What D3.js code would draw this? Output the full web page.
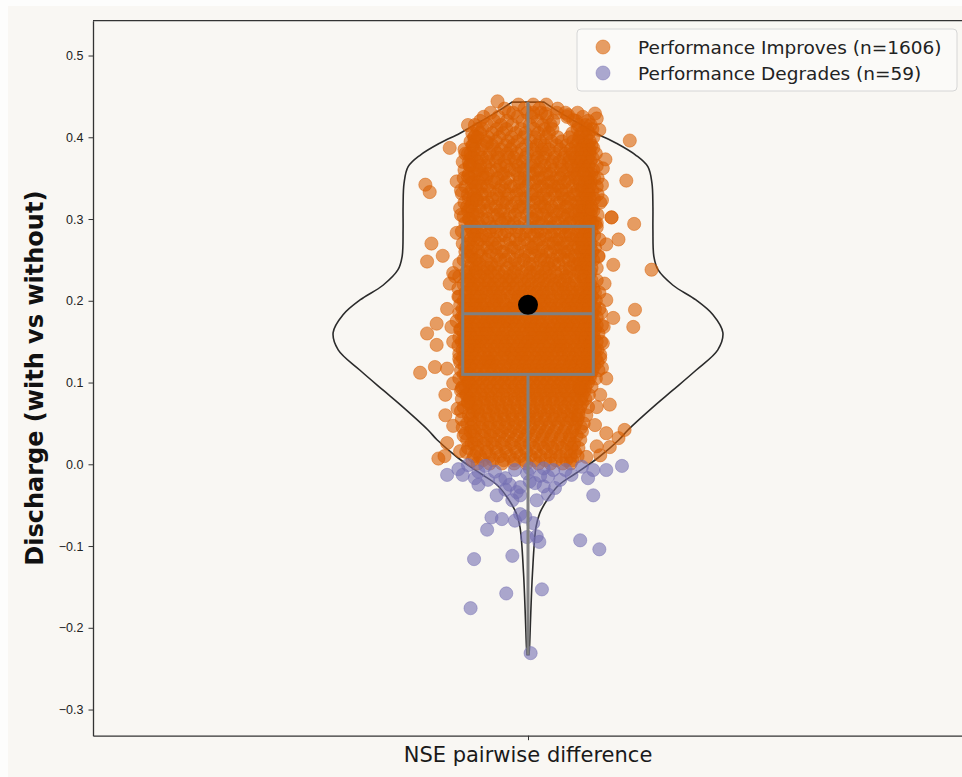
<!DOCTYPE html>
<html>
<head>
<meta charset="utf-8">
<script src="https://cdn.jsdelivr.net/npm/d3@7"></script>
<style>
  html, body { margin: 0; padding: 0; background: #fdfdfc; }
  svg { display: block; font-family: "DejaVu Sans", sans-serif; }
</style>
</head>
<body>
<svg id="chart" width="962" height="777"></svg>
<script>
// ---- data ----
const yTicks = [0.5, 0.4, 0.3, 0.2, 0.1, 0.0, -0.1, -0.2, -0.3];
const groupNames = ["Performance Improves (n=1606)", "Performance Degrades (n=59)"];
const groupColors = ["#d95f02", "#7570b3"];

// violin outline: [value, relative half width]
const violinProfile = [
  [0.443, .082], [0.431, .159], [0.419, .246], [0.405, .349], [0.393, .451],
  [0.378, .554], [0.364, .615], [0.344, .636], [0.315, .641], [0.287, .641],
  [0.254, .646], [0.238, .667], [0.219, .744], [0.201, .862], [0.183, .949],
  [0.161, 1.0], [0.140, .974], [0.115, .862], [0.090, .740], [0.073, .656],
  [0.042, .513], [0.030, .467], [0.008, .360], [-0.011, .246], [-0.025, .160],
  [-0.040, .108], [-0.060, .060], [-0.077, .041], [-0.133, .023], [-0.190, .013],
  [-0.223, .008], [-0.233, .005]
];

// box plot: q1, median, q3 / whisker ends / mean
const boxQuartiles = [0.110, 0.184, 0.291];
const whiskerEnds = [-0.233, 0.443];
const meanValue = 0.195;

// improving catchments, grouped by value: [value, [jitter offsets]]
const improvesRows = [
  [.440, [-.011,.006,.021]],
  [.435, [-.027,-.004,.013,.034]],
  [.430, [-.043,-.022,-.001,.015,.033,.057]],
  [.425, [-.051,-.034,-.012,.004,.022,.045,.063]],
  [.420, [-.055,-.039,-.024,-.006,.011,.029,.055,.069]],
  [.415, [-.061,-.047,-.031,-.018,.002,.017,.026,.058,.066,.072]],
  [.410, [-.058,-.052,-.036,-.025,-.008,.007,.019,.028,.057,.068,.074]],
  [.405, [-.064,-.055,-.041,-.029,-.014,-.003,.012,.024,.051,.061,.070,.063]],
  [.400, [-.062,-.058,-.046,-.033,-.019,-.005,.008,.021,.034,.048,.059,.067,.075]],
  [.395, [-.066,-.061,-.048,-.037,-.023,-.012,.003,.014,.027,.039,.052,.063,.071,.058]],
  [.390, [-.064,-.063,-.052,-.041,-.026,-.017,-.002,.010,.019,.033,.044,.055,.064,.073,.069]],
  [.385, [-.073,-.062,-.054,-.039,-.031,-.020,-.007,.005,.016,.024,.037,.049,.058,.067,.071,.061]],
  [.380, [-.069,-.066,-.057,-.044,-.035,-.024,-.013,-.001,.009,.020,.031,.043,.051,.062,.071,.078,.066]],
  [.375, [-.062,-.065,-.053,-.047,-.034,-.022,-.016,-.003,.011,.018,.030,.041,.054,.060,.069,.074,.048]],
  [.370, [-.075,-.068,-.058,-.045,-.037,-.027,-.014,-.006,.007,.015,.028,.036,.047,.056,.066,.072,.061]],
  [.365, [-.067,-.064,-.055,-.049,-.032,-.025,-.011,.000,.004,.019,.026,.039,.050,.058,.064,.070,.079]],
  [.360, [-.073,-.059,-.056,-.043,-.036,-.021,-.015,-.005,.010,.014,.029,.038,.045,.061,.067,.075,.053]],
  [.355, [-.068,-.061,-.052,-.046,-.030,-.028,-.012,.002,.006,.021,.025,.040,.053,.057,.070,.073,.064]],
  [.350, [-.074,-.067,-.052,-.048,-.035,-.023,-.009,-.004,.012,.017,.032,.037,.048,.055,.068,.076,.080]],
  [.345, [-.065,-.063,-.057,-.042,-.038,-.026,-.010,.001,.008,.023,.027,.042,.046,.059,.065,.072,.069]],
  [.340, [-.072,-.060,-.054,-.047,-.031,-.020,-.016,-.002,.013,.016,.030,.035,.051,.060,.063,.071,.079]],
  [.335, [-.077,-.065,-.058,-.044,-.033,-.027,-.011,-.006,.009,.022,.028,.038,.044,.057,.069,.074,.062]],
  [.330, [-.069,-.062,-.053,-.049,-.036,-.022,-.013,.003,.005,.018,.031,.039,.052,.054,.066,.070,.080]],
  [.325, [-.063,-.068,-.059,-.041,-.034,-.024,-.008,-.003,.011,.020,.024,.041,.047,.062,.067,.071,.076]],
  [.320, [-.073,-.064,-.051,-.046,-.029,-.025,-.014,.000,.007,.015,.033,.036,.049,.056,.064,.068,.083]],
  [.315, [-.070,-.066,-.056,-.043,-.037,-.019,-.010,-.005,.014,.019,.027,.043,.045,.058,.070,.073,.061]],
  [.310, [-.064,-.069,-.055,-.048,-.032,-.028,-.012,.002,.008,.022,.029,.037,.053,.059,.063,.075,.069]],
  [.305, [-.077,-.063,-.058,-.040,-.035,-.021,-.015,-.001,.010,.017,.032,.040,.046,.055,.068,.072,.080]],
  [.300, [-.068,-.067,-.052,-.047,-.033,-.026,-.009,.004,.006,.021,.026,.042,.050,.061,.065,.071,.058]],
  [.295, [-.072,-.065,-.057,-.045,-.030,-.023,-.016,-.004,.012,.016,.031,.035,.048,.057,.066,.074,.077]],
  [.290, [-.066,-.061,-.054,-.042,-.038,-.020,-.011,.001,.009,.023,.028,.041,.044,.060,.069,.071,.079]],
  [.285, [-.076,-.064,-.059,-.044,-.036,-.024,-.013,-.002,.011,.015,.030,.037,.047,.058,.066,.073,.063]],
  [.280, [-.070,-.062,-.053,-.049,-.031,-.027,-.009,.003,.007,.020,.027,.043,.049,.056,.064,.076,.071]],
  [.275, [-.066,-.062,-.055,-.046,-.039,-.021,-.014,-.004,.013,.018,.033,.036,.051,.060,.068,.070,.082]],
  [.270, [-.075,-.068,-.058,-.041,-.034,-.025,-.010,.000,.009,.024,.029,.040,.045,.055,.067,.072,.062]],
  [.265, [-.071,-.063,-.052,-.047,-.037,-.019,-.016,.004,.006,.017,.031,.038,.052,.058,.063,.072,.077]],
  [.260, [-.072,-.066,-.057,-.043,-.030,-.028,-.012,-.003,.012,.022,.026,.042,.046,.061,.069,.074,.066]],
  [.255, [-.065,-.069,-.054,-.045,-.036,-.022,-.008,.001,.008,.016,.034,.037,.050,.054,.065,.071,.081]],
  [.250, [-.074,-.061,-.059,-.048,-.032,-.026,-.015,-.005,.014,.019,.028,.041,.047,.059,.066,.071,.075]],
  [.245, [-.079,-.065,-.056,-.042,-.035,-.020,-.011,.002,.005,.023,.030,.035,.053,.057,.064,.068,.060]],
  [.240, [-.067,-.060,-.051,-.046,-.038,-.024,-.014,-.001,.010,.018,.025,.043,.048,.062,.068,.073,.079]],
  [.235, [-.071,-.068,-.060,-.052,-.043,-.034,-.027,-.016,-.007,.003,.011,.020,.031,.039,.048,.058,.067,.072]],
  [.230, [-.079,-.071,-.063,-.055,-.047,-.038,-.029,-.021,-.012,-.002,.006,.015,.025,.033,.044,.053,.061,.070,.064]],
  [.225, [-.066,-.069,-.058,-.049,-.044,-.033,-.024,-.018,-.008,.001,.012,.019,.028,.037,.042,.054,.064,.073,.079]],
  [.220, [-.074,-.070,-.062,-.056,-.045,-.039,-.030,-.022,-.013,-.004,.004,.013,.022,.030,.040,.047,.056,.066,.072,.068]],
  [.215, [-.080,-.064,-.065,-.057,-.050,-.041,-.035,-.026,-.017,-.009,.000,.008,.016,.027,.034,.043,.051,.060,.068,.075,.071]],
  [.210, [-.071,-.072,-.064,-.053,-.048,-.040,-.031,-.023,-.015,-.006,.002,.010,.018,.024,.035,.041,.050,.057,.063,.071,.077,.082]],
  [.205, [-.079,-.070,-.061,-.055,-.046,-.037,-.032,-.020,-.011,-.005,.005,.014,.021,.029,.038,.045,.053,.059,.067,.074,.066,.069]],
  [.200, [-.068,-.074,-.066,-.059,-.051,-.042,-.036,-.028,-.019,-.012,-.003,.004,.012,.019,.027,.036,.044,.051,.058,.065,.072,.078,.071]],
  [.195, [-.078,-.071,-.063,-.054,-.049,-.039,-.033,-.025,-.016,-.007,.001,.009,.016,.025,.032,.040,.047,.055,.062,.070,.076,.067,-.060]],
  [.190, [-.072,-.075,-.067,-.060,-.052,-.045,-.038,-.029,-.022,-.013,-.006,.003,.010,.018,.026,.033,.042,.049,.056,.063,.069,.077,.082,-.018]],
  [.185, [-.079,-.066,-.064,-.057,-.048,-.043,-.034,-.026,-.018,-.010,-.001,.007,.015,.021,.030,.037,.046,.052,.060,.066,.074,.070,.084,.011]],
  [.180, [-.074,-.076,-.068,-.061,-.053,-.046,-.040,-.031,-.024,-.015,-.008,.000,.006,.013,.023,.031,.039,.045,.054,.061,.067,.073,.079,.068,-.036]],
  [.175, [-.082,-.070,-.069,-.062,-.055,-.047,-.041,-.033,-.027,-.019,-.011,-.004,.004,.011,.017,.026,.034,.040,.048,.057,.063,.070,.076,.072,-.023]],
  [.170, [-.071,-.073,-.066,-.058,-.050,-.044,-.037,-.030,-.021,-.014,-.006,.002,.009,.016,.024,.030,.038,.047,.053,.059,.066,.073,.079,.085,.044,-.052]],
  [.165, [-.078,-.077,-.070,-.063,-.056,-.048,-.039,-.034,-.025,-.016,-.009,-.001,.007,.014,.020,.028,.036,.043,.050,.058,.064,.071,.077,.068,.003]],
  [.160, [-.069,-.074,-.067,-.059,-.053,-.045,-.038,-.029,-.023,-.015,-.007,.001,.008,.017,.023,.032,.039,.046,.055,.061,.068,.075,.081,.072,-.048,.027]],
  [.155, [-.079,-.072,-.065,-.060,-.051,-.043,-.036,-.028,-.020,-.012,-.005,.005,.012,.019,.027,.035,.041,.049,.056,.062,.070,.076,.066,-.031,.015]],
  [.150, [-.073,-.076,-.068,-.061,-.054,-.047,-.040,-.032,-.024,-.017,-.009,-.002,.006,.013,.022,.029,.037,.044,.052,.059,.065,.073,.079,.084,.000,-.057]],
  [.145, [-.080,-.067,-.066,-.057,-.049,-.042,-.035,-.026,-.018,-.011,-.003,.004,.010,.018,.025,.033,.040,.048,.054,.063,.069,.074,.071,-.062,.037]],
  [.140, [-.072,-.075,-.069,-.062,-.055,-.046,-.039,-.031,-.022,-.014,-.006,.001,.009,.016,.024,.031,.038,.045,.053,.060,.067,.072,.080,.077,-.027]],
  [.135, [-.079,-.068,-.064,-.058,-.050,-.044,-.037,-.027,-.019,-.012,-.004,.003,.011,.018,.026,.034,.041,.047,.055,.061,.068,.075,.070,-.008,.021]],
  [.130, [-.070,-.075,-.068,-.061,-.053,-.046,-.039,-.030,-.023,-.016,-.007,.000,.008,.015,.023,.030,.039,.046,.052,.059,.066,.073,.078,.083]],
  [.125, [-.078,-.071,-.065,-.056,-.049,-.041,-.034,-.025,-.017,-.010,-.002,.006,.013,.020,.028,.036,.042,.050,.057,.063,.071,.068,.080,-.045]],
  [.120, [-.067,-.073,-.066,-.059,-.051,-.043,-.036,-.028,-.020,-.013,-.005,.002,.010,.017,.025,.032,.040,.048,.054,.062,.069,.076,.071]],
  [.115, [-.077,-.070,-.062,-.054,-.047,-.039,-.031,-.023,-.014,-.006,.001,.009,.016,.024,.031,.038,.045,.053,.060,.067,.074,.081]],
  [.110, [-.072,-.074,-.067,-.058,-.050,-.042,-.033,-.026,-.018,-.009,-.001,.007,.014,.022,.029,.037,.044,.051,.059,.066,.072,.069]],
  [.105, [-.079,-.071,-.063,-.055,-.046,-.038,-.030,-.021,-.012,-.004,.004,.012,.019,.027,.035,.043,.050,.057,.065,.071,.078]],
  [.100, [-.069,-.068,-.060,-.052,-.044,-.035,-.027,-.019,-.010,-.002,.006,.014,.022,.030,.038,.046,.054,.062,.069,.064]],
  [.095, [-.075,-.072,-.064,-.057,-.048,-.040,-.032,-.024,-.015,-.007,.002,.010,.018,.026,.034,.041,.049,.058,.066,.073]],
  [.090, [-.077,-.065,-.061,-.052,-.043,-.035,-.026,-.017,-.009,.000,.008,.017,.025,.033,.042,.050,.058,.065,.061]],
  [.085, [-.070,-.071,-.062,-.054,-.046,-.037,-.029,-.020,-.011,-.003,.006,.014,.022,.031,.039,.047,.055,.063,.070]],
  [.080, [-.076,-.067,-.059,-.050,-.042,-.033,-.024,-.015,-.006,.003,.011,.020,.028,.037,.045,.053,.061,.066]],
  [.075, [-.066,-.069,-.060,-.051,-.043,-.034,-.025,-.016,-.007,.002,.011,.020,.029,.038,.047,.056,.062]],
  [.070, [-.074,-.065,-.057,-.047,-.039,-.030,-.021,-.012,-.003,.006,.015,.024,.033,.042,.051,.060,.069]],
  [.065, [-.077,-.062,-.058,-.049,-.040,-.031,-.022,-.013,-.004,.005,.014,.023,.032,.041,.050,.058]],
  [.060, [-.068,-.064,-.055,-.045,-.036,-.027,-.018,-.008,.001,.010,.019,.028,.037,.046,.055,.067]],
  [.055, [-.076,-.066,-.056,-.047,-.037,-.028,-.018,-.009,.001,.010,.020,.030,.040,.050,.057]],
  [.050, [-.070,-.062,-.052,-.043,-.033,-.023,-.014,-.004,.006,.015,.025,.035,.045,.055,.064]],
  [.045, [-.075,-.065,-.055,-.045,-.035,-.026,-.016,-.006,.003,.013,.023,.033,.043,.053,.061]],
  [.040, [-.066,-.061,-.050,-.040,-.030,-.020,-.010,.000,.010,.020,.030,.041,.051,.062]],
  [.035, [-.074,-.063,-.053,-.043,-.033,-.023,-.013,-.003,.007,.017,.027,.038,.048,.056]],
  [.030, [-.070,-.059,-.048,-.038,-.027,-.016,-.005,.005,.016,.026,.037,.048,.060]],
  [.025, [-.065,-.062,-.051,-.041,-.030,-.019,-.008,.002,.013,.023,.034,.045,.053]],
  [.020, [-.069,-.058,-.047,-.037,-.026,-.015,-.004,.007,.018,.028,.039,.050,.058]],
  [.015, [-.071,-.059,-.048,-.036,-.025,-.013,-.002,.009,.021,.032,.044,.054]],
  [.010, [-.062,-.055,-.044,-.032,-.021,-.009,.003,.014,.026,.037,.049,.057]],
  [.005, [-.064,-.052,-.040,-.028,-.016,-.004,.008,.020,.032,.044,.051]],
  [.001, [-.058,-.044,-.030,-.016,-.002,.012,.026,.040,.049]]
];

// improving catchments outside the dense core: [jitter, value]
const improvesScattered = [
  [-.035,.444], [-.069,.415], [-.061,.401], [-.090,.387], [-.072,.380], [-.118,.342],
  [-.113,.333], [-.082,.346], [-.076,.331], [-.078,.313], [-.074,.303], [-.111,.270],
  [-.098,.255], [-.116,.248], [-.086,.234], [-.047,.393], [-.067,.366], [-.069,.352],
  [-.059,.323], [-.090,.221], [-.084,.230], [-.093,.190], [-.105,.172], [-.088,.168],
  [-.116,.160], [-.105,.146], [-.086,.150], [-.124,.112], [-.107,.119], [-.093,.117],
  [-.086,.099], [-.076,.093], [-.095,.085], [-.095,.060], [-.086,.047], [-.093,.026],
  [-.103,.007], [-.069,.077], [-.072,.038], [-.096,.010], [-.082,.283], [-.080,.205],
  [-.079,.129], [-.081,.068], [-.078,.016],
  [.077,.429], [.079,.423], [.082,.409], [.117,.396], [.089,.373], [.113,.347],
  [.085,.323], [.096,.302], [.096,.302], [.122,.294], [.104,.275], [.090,.269],
  [.098,.244], [.142,.238], [.046,.427], [.020,.429], [.075,.387], [.085,.342],
  [.073,.312], [.071,.297], [.079,.295], [.081,.254], [.123,.189], [.121,.168],
  [.090,.201], [.098,.179], [.087,.168], [.083,.134], [.090,.105], [.083,.085],
  [.094,.073], [.077,.048], [.090,.038], [.111,.042], [.104,.032], [.079,.022],
  [.060,.093], [.058,.060], [.079,.070], [.094,.021], [.083,.011], [.067,.009],
  [.086,.362], [.088,.221], [.086,.148], [.085,.118],
  [-.017,.430], [.006,.430], [.052,.421], [.043,.430]
];

// degrading catchments: [jitter, value]
const degradesPoints = [
  [-.093,-.013], [-.080,-.006], [-.069,-.001], [-.057,-.009], [-.057,-.025], [-.046,-.019],
  [-.036,-.038], [-.032,-.019], [-.021,-.025], [-.013,-.034], [-.009,-.038], [-.001,-.011],
  [.008,-.023], [.018,-.027], [.023,-.015], [.029,-.007], [.018,-.005], [.050,-.013],
  [.062,-.003], [.075,-.007], [.090,-.007], [.108,-.002], [.075,-.038], [-.042,-.065],
  [-.030,-.067], [-.047,-.080], [-.015,-.069], [-.009,-.061], [-.003,-.064], [.006,-.072],
  [-.001,-.089], [.010,-.088], [.013,-.095], [.060,-.093], [.082,-.104], [-.062,-.116],
  [-.018,-.112], [-.025,-.158], [.016,-.153], [-.066,-.176], [.003,-.231], [-.026,-.017],
  [-.015,-.007], [.002,-.021], [.014,-.014], [.037,-.019], [.043,-.007], [-.049,-.002],
  [-.038,-.009], [-.009,-.028], [.023,-.037], [-.026,-.031], [-.061,-.017], [-.075,-.013],
  [.069,-.017], [.002,-.005], [.031,-.029], [-.018,-.044], [.010,-.044]
];

// ---- drawing ----
const svg = d3.select("#chart");
const width = +svg.attr("width");
const height = +svg.attr("height");

const x = d3.scaleLinear().domain([-0.5, 0.5]).range([93, 963]);
const y = d3.scaleLinear().domain([-0.332, 0.5426]).range([735.7, 20.7]);
const violinHalf = 0.224;   // widest point of the violin, x units
const boxHalf = 0.075;
const pointR = 6.6;

// figure background
svg.append("rect")
   .attr("x", 8).attr("y", 6)
   .attr("width", width - 8).attr("height", height - 6)
   .attr("fill", "#f9f7f3");

// violin outline
const violinArea = d3.area()
    .y(d => y(d[0]))
    .x0(d => x(-violinHalf * d[1]))
    .x1(d => x(violinHalf * d[1]))
    .curve(d3.curveCatmullRom.alpha(0.5));

svg.append("path")
   .datum(violinProfile)
   .attr("d", violinArea)
   .attr("fill", "none")
   .attr("stroke", "#2b2b2b")
   .attr("stroke-width", 1.6);

// points
const improvesPoints = improvesRows
    .flatMap(([v, jit]) => jit.map(j => [j, v]))
    .concat(improvesScattered);

function drawPoints(data, color) {
    svg.append("g")
       .selectAll("circle")
       .data(data)
       .join("circle")
       .attr("cx", d => x(d[0]))
       .attr("cy", d => y(d[1]))
       .attr("r", pointR)
       .attr("fill", color)
       .attr("fill-opacity", 0.6)
       .attr("stroke", color)
       .attr("stroke-opacity", 0.6)
       .attr("stroke-width", 0.8);
}
drawPoints(improvesPoints, groupColors[0]);
drawPoints(degradesPoints, groupColors[1]);

// box plot
const boxG = svg.append("g")
   .attr("fill", "none")
   .attr("stroke", "#808080")
   .attr("stroke-width", 3);

boxG.append("line")
   .attr("x1", x(0)).attr("x2", x(0))
   .attr("y1", y(boxQuartiles[2])).attr("y2", y(whiskerEnds[1]));
boxG.append("line")
   .attr("x1", x(0)).attr("x2", x(0))
   .attr("y1", y(boxQuartiles[0])).attr("y2", y(whiskerEnds[0]));
boxG.append("rect")
   .attr("x", x(-boxHalf))
   .attr("y", y(boxQuartiles[2]))
   .attr("width", x(boxHalf) - x(-boxHalf))
   .attr("height", y(boxQuartiles[0]) - y(boxQuartiles[2]));
boxG.append("line")
   .attr("x1", x(-boxHalf)).attr("x2", x(boxHalf))
   .attr("y1", y(boxQuartiles[1])).attr("y2", y(boxQuartiles[1]));

// mean marker
svg.append("circle")
   .attr("cx", x(0))
   .attr("cy", y(meanValue))
   .attr("r", 10)
   .attr("fill", "#000");

// axes
const yAxis = d3.axisLeft(y)
    .tickValues(yTicks)
    .tickFormat(d3.format(".1f"))
    .tickSize(4.5)
    .tickSizeOuter(0)
    .tickPadding(5);

const yG = svg.append("g")
   .attr("transform", `translate(${x.range()[0]},0)`)
   .call(yAxis);
yG.selectAll("text").attr("font-size", 12.5).attr("fill", "#222");

const xAxis = d3.axisBottom(x)
    .tickValues([0])
    .tickFormat("")
    .tickSize(4.5)
    .tickSizeOuter(0);

svg.append("g")
   .attr("transform", `translate(0,${y.range()[0]})`)
   .call(xAxis);

svg.selectAll(".domain").attr("stroke", "#333").attr("stroke-width", 1.3);
svg.selectAll(".tick line").attr("stroke", "#333").attr("stroke-width", 1);

// top spine
svg.append("line")
   .attr("x1", x.range()[0]).attr("x2", x.range()[1])
   .attr("y1", y.range()[1]).attr("y2", y.range()[1])
   .attr("stroke", "#333").attr("stroke-width", 1.3);

// axis titles
svg.append("text")
   .attr("x", x(0))
   .attr("y", 761.5)
   .attr("text-anchor", "middle")
   .attr("font-size", 21)
   .attr("fill", "#1a1a1a")
   .text("NSE pairwise difference");

svg.append("text")
   .attr("transform", `translate(43,${(y.range()[0] + y.range()[1]) / 2}) rotate(-90)`)
   .attr("text-anchor", "middle")
   .attr("font-size", 24)
   .attr("font-weight", "bold")
   .attr("fill", "#111")
   .text("Discharge (with vs without)");

// legend
const legend = svg.append("g").attr("transform", "translate(577,29)");
legend.append("rect")
   .attr("width", 380).attr("height", 62)
   .attr("rx", 4)
   .attr("fill", "#fbfaf8")
   .attr("stroke", "#d6d6d6");

groupNames.forEach((name, i) => {
    const row = legend.append("g").attr("transform", `translate(0,${18 + i * 26})`);
    row.append("circle")
       .attr("cx", 26).attr("cy", 0).attr("r", 7)
       .attr("fill", groupColors[i]).attr("fill-opacity", 0.6)
       .attr("stroke", groupColors[i]).attr("stroke-opacity", 0.6)
       .attr("stroke-width", 0.8);
    row.append("text")
       .attr("x", 61).attr("y", 6.5)
       .attr("font-size", 18.5)
       .attr("fill", "#222")
       .text(name);
});
</script>
</body>
</html>
